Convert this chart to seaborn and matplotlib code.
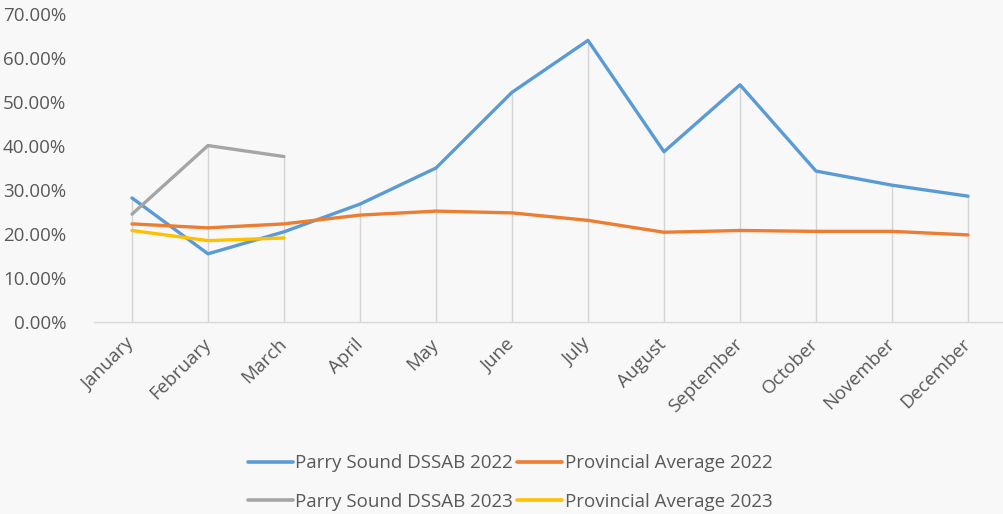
import matplotlib
matplotlib.use("Agg")
import matplotlib.pyplot as plt
import seaborn as sns
import pandas as pd
import numpy as np
from matplotlib.ticker import PercentFormatter

months = ["January", "February", "March", "April", "May", "June", "July",
          "August", "September", "October", "November", "December"]
parry_2022 = [28.2, 15.5, 20.5, 26.8, 35.0, 52.2, 64.0, 38.7, 53.9, 34.3, 31.1, 28.6]
prov_2022 = [22.3, 21.4, 22.3, 24.3, 25.2, 24.8, 23.1, 20.4, 20.8, 20.6, 20.6, 19.8]
parry_2023 = [24.5, 40.1, 37.6]
prov_2023 = [20.8, 18.5, 19.1]

series_names = ["Parry Sound DSSAB 2022", "Provincial Average 2022",
                "Parry Sound DSSAB 2023", "Provincial Average 2023"]
series_vals = [parry_2022, prov_2022, parry_2023, prov_2023]
colors = ["#5B9BD5", "#ED7D31", "#A5A5A5", "#FFC000"]

rows = []
for name, vals in zip(series_names, series_vals):
    for i, v in enumerate(vals):
        rows.append({"idx": i, "month": months[i], "value": v / 100.0, "series": name})
df = pd.DataFrame(rows)

sns.set_theme(style="white")
plt.rcParams["font.family"] = ["Open Sans", "DejaVu Sans"]

bg = "#f8f8f8"
fig = plt.figure(figsize=(10.04, 5.14), dpi=100, facecolor=bg)
ax = fig.add_axes([0.0936, 0.3735, 0.9084, 0.5993])
ax.set_facecolor(bg)

# drop lines
maxes = df.groupby("idx")["value"].max()
ax.vlines(maxes.index, 0, maxes.values, color="#d4d4d4", linewidth=1.0, zorder=1)

sns.lineplot(data=df, x="idx", y="value", hue="series", hue_order=series_names,
             palette=colors, linewidth=2.4, sort=False, ax=ax, legend=False, zorder=3)

ax.set_xlim(-0.5, 11.5)
ax.set_ylim(0, 0.70)
ax.set_yticks(np.arange(0, 0.71, 0.10))
ax.yaxis.set_major_formatter(PercentFormatter(1.0, decimals=2))
ax.set_xticks(range(len(months)))
ax.set_xticklabels(months, rotation=45, ha="right", va="center", rotation_mode="anchor")
ax.tick_params(axis="both", length=0, labelsize=13.5, labelcolor="#595959")
ax.tick_params(axis="y", pad=20)
ax.tick_params(axis="x", pad=14)
ax.set_xlabel("")
ax.set_ylabel("")
for s in ["top", "right", "left"]:
    ax.spines[s].set_visible(False)
ax.spines["bottom"].set_color("#d9d9d9")
ax.spines["bottom"].set_linewidth(1.0)

# legend: row-wise order (P22, Pr22 / P23, Pr23) -> column-major handles
order = [0, 2, 1, 3]
handles = [plt.Line2D([0], [0], color=colors[i], linewidth=2.6) for i in order]
labels = [series_names[i] for i in order]
fig.legend(handles, labels, loc="center", bbox_to_anchor=(0.508, 0.061),
           ncol=2, frameon=False, fontsize=13.5, labelcolor="#595959",
           handlelength=2.4, handletextpad=0.15, columnspacing=0.2, labelspacing=1.1)

fig.savefig("out.png", dpi=100, facecolor=bg)
